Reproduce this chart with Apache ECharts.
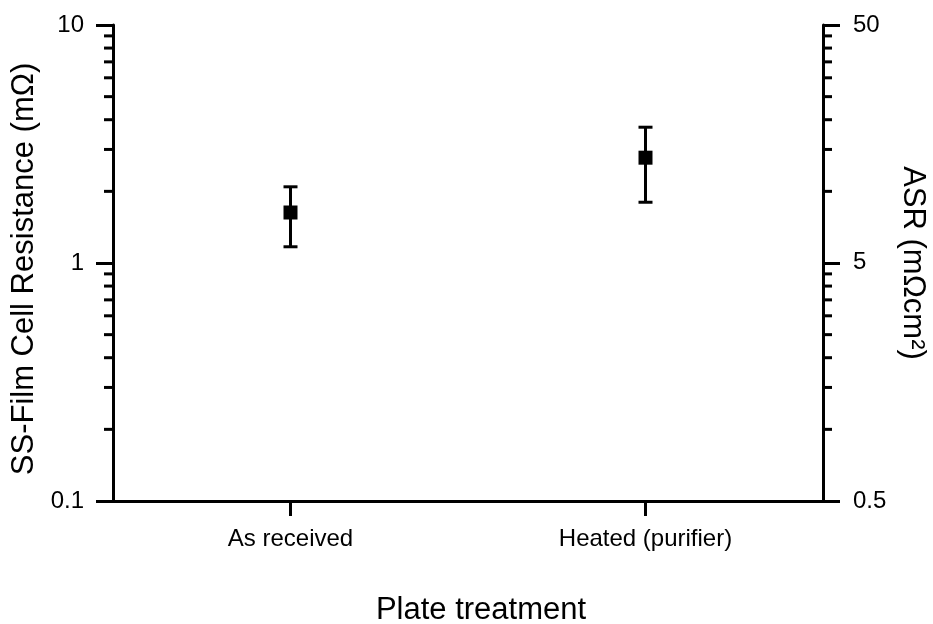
<!DOCTYPE html>
<html>
<head>
<meta charset="utf-8">
<script src="https://cdn.jsdelivr.net/npm/echarts@6/dist/echarts.min.js"></script>
<style>
  html, body { margin: 0; padding: 0; background: #fff; }
  #chart { width: 933px; height: 624px; }
</style>
</head>
<body>
<div id="chart"></div>
<script>
// Plate treatments compared
const categories = ['As received', 'Heated (purifier)'];
// Cell resistance (mΩ): mean with lower/upper error limits
const meanR = [1.63, 2.77];
const lowR = [1.17, 1.80];
const highR = [2.09, 3.72];
// Minor tick values on the resistance scale (log decades)
const minorTicks = [0.2, 0.3, 0.4, 0.5, 0.6, 0.7, 0.8, 0.9, 2, 3, 4, 5, 6, 7, 8, 9];

const FONT = '"Liberation Sans", Arial, sans-serif';
const INK = '#000';

const chart = echarts.init(document.getElementById('chart'), null, { renderer: 'canvas' });

const errData = categories.map((c, i) => [i, lowR[i], highR[i]]);
const meanData = categories.map((c, i) => [i, meanR[i]]);
const minorData = minorTicks.map(v => [0, v]);

// tidy log tick labels (e.g. 5.0118… -> 5)
const tidy = v => String(Number(Number(v).toPrecision(2)));

chart.setOption({
  backgroundColor: '#fff',
  animation: false,
  grid: { left: 113, right: 110, top: 25, bottom: 123, containLabel: false, outerBoundsMode: 'none' },
  xAxis: {
    type: 'category',
    data: categories,
    boundaryGap: true,
    name: 'Plate treatment',
    nameLocation: 'middle',
    nameGap: 94,
    nameTextStyle: { fontFamily: FONT, fontSize: 31, color: INK, padding: [0, 0, 0, 26] },
    axisLine: { show: true, lineStyle: { color: INK, width: 3 } },
    axisTick: { show: true, alignWithLabel: true, length: 15, lineStyle: { color: INK, width: 3 } },
    axisLabel: { fontFamily: FONT, fontSize: 24, color: INK, margin: 26 },
    splitLine: { show: false }
  },
  yAxis: [
    {
      type: 'log',
      logBase: 10,
      min: 0.1,
      max: 10,
      interval: 1,
      position: 'left',
      name: 'SS-Film Cell Resistance (mΩ)',
      nameLocation: 'middle',
      nameGap: 67,
      nameTextStyle: { fontFamily: FONT, fontSize: 31, color: INK, padding: [0, 12, 0, 0] },
      axisLine: { show: true, lineStyle: { color: INK, width: 3 } },
      axisTick: { show: true, inside: false, length: 17, lineStyle: { color: INK, width: 3 } },
      axisLabel: { fontFamily: FONT, fontSize: 24, color: INK, margin: 29, formatter: tidy },
      splitLine: { show: false }
    },
    {
      type: 'log',
      logBase: 10,
      min: 0.5,
      max: 50,
      interval: 1,
      position: 'right',
      name: 'ASR (mΩcm²)',
      nameLocation: 'middle',
      nameGap: 74,
      nameRotate: -90,
      nameTextStyle: { fontFamily: FONT, fontSize: 31, color: INK },
      axisLine: { show: true, onZero: false, lineStyle: { color: INK, width: 3 } },
      axisTick: { show: true, inside: false, length: 17, lineStyle: { color: INK, width: 3 } },
      axisLabel: { fontFamily: FONT, fontSize: 24, color: INK, margin: 30, formatter: tidy },
      splitLine: { show: false }
    }
  ],
  series: [
    {
      // minor log ticks on both vertical axes
      type: 'custom',
      name: 'minor ticks',
      xAxisIndex: 0,
      yAxisIndex: 0,
      silent: true,
      clip: false,
      encode: { x: 0, y: 1 },
      data: minorData,
      renderItem: function (params, api) {
        const y = api.coord([0, api.value(1)])[1];
        const cs = params.coordSys;
        const xl = cs.x;
        const xr = cs.x + cs.width;
        const style = { stroke: INK, lineWidth: 3 };
        return {
          type: 'group',
          children: [
            { type: 'line', shape: { x1: xl - 9, y1: y, x2: xl, y2: y }, style: style },
            { type: 'line', shape: { x1: xr, y1: y, x2: xr + 9, y2: y }, style: style }
          ]
        };
      },
      z: 1
    },
    {
      // error bars
      type: 'custom',
      name: 'error',
      xAxisIndex: 0,
      yAxisIndex: 0,
      encode: { x: 0, y: [1, 2] },
      data: errData,
      renderItem: function (params, api) {
        const lo = api.coord([api.value(0), api.value(1)]);
        const hi = api.coord([api.value(0), api.value(2)]);
        const half = 7;
        const style = { stroke: INK, lineWidth: 3 };
        return {
          type: 'group',
          children: [
            { type: 'line', shape: { x1: lo[0], y1: lo[1], x2: hi[0], y2: hi[1] }, style: style },
            { type: 'line', shape: { x1: lo[0] - half, y1: lo[1], x2: lo[0] + half, y2: lo[1] }, style: style },
            { type: 'line', shape: { x1: hi[0] - half, y1: hi[1], x2: hi[0] + half, y2: hi[1] }, style: style }
          ]
        };
      },
      z: 2
    },
    {
      type: 'scatter',
      name: 'mean',
      xAxisIndex: 0,
      yAxisIndex: 0,
      symbol: 'rect',
      symbolSize: 14,
      itemStyle: { color: INK, opacity: 1 },
      data: meanData,
      z: 3
    }
  ]
});
</script>
</body>
</html>
